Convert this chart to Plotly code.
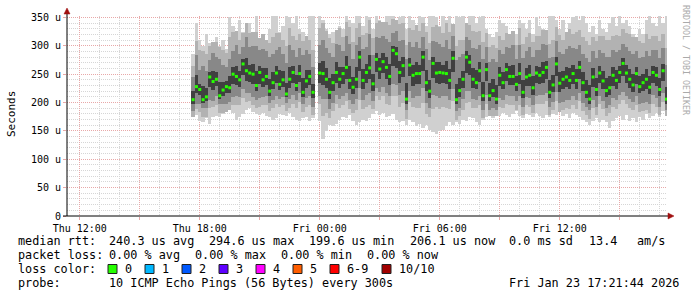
import plotly.graph_objects as go
import pandas as pd

# ---------------- data (10-minute steps) ----------------
start_time = "2026-01-22 17:40:00"
n_steps = 143
times = list(pd.date_range(start_time, periods=n_steps, freq="10min"))

median_us = [
    205, 228, 223, 205, 210, 245, 237, 241, 212, 222, 228, 226, 250, 246, 240, 268, 256, 252, 250, 230,
    253, 240, 246, 220, 235, 252, 232, 240, 215, 241, 253, 230, 251, 218, 238, 246,
    218, None, 252, 251, 241, 218, 235, 253, 241, 251, 262, 239, 227, 241, 280, 239, 253, 261, 233, 276,
    259, 272, 262, 246, 292, 286, 253, 265, 206, 266, 248, 251, 251, 280, 235, 220,
    269, 252, 253, 252, 251, 239, 278, 205, 221, 241, 280, 271, 241, 235, 256, 212, 258, 212, 221, 206,
    248, 235, 258, 246, 246, 232, 251, 218, 245, 248, 226, 252, 248, 253, 262, 218,
    231, 268, 234, 241, 245, 239, 251, 239, 262, 235, 218, 206, 245, 223, 252, 238, 221, 226, 248, 239,
    253, 269, 252, 241, 231, 251, 228, 235, 241, 227, 253, 248, 223, 256, 206,
]

max_us = [
    285, 340, 310, 300, 320, 305, 290, 315, 300, 310, 295, 350, 335, 315, 345, 325, 300, 340, 320, 360,
    305, 320, 295, 330, 355, 360, 325, 335, 360, 350, 340, 360, 330, 325, 315, 358,
    352, None, 360, 345, 330, 320, 325, 315, 335, 330, 358, 345, 340, 360, 355, 335, 360, 350, 330, 360,
    345, 335, 360, 352, 360, 335, 350, 360, 330, 355, 345, 330, 360, 350, 335, 358,
    360, 350, 335, 360, 345, 360, 330, 360, 350, 358, 335, 355, 360, 340, 350, 360, 330, 320, 315, 325,
    345, 340, 335, 310, 305, 320, 345, 340, 330, 345, 320, 350, 335, 330, 325, 355,
    360, 345, 330, 345, 325, 340, 350, 360, 345, 355, 340, 325, 335, 320, 345, 330, 325, 340, 350, 335,
    360, 340, 345, 335, 320, 315, 330, 320, 345, 355, 340, 335, 355, 340, 358,
]

min_us = [
    185, 178, 168, 166, 172, 163, 175, 176, 174, 180, 185, 190, 182, 170, 175, 180, 186, 190, 184, 180,
    178, 182, 176, 175, 170, 172, 180, 178, 176, 182, 174, 170, 168, 172, 175, 168,
    172, None, 168, 135, 150, 160, 158, 162, 170, 175, 172, 178, 168, 160, 165, 170, 168, 172, 180, 185,
    178, 182, 175, 176, 180, 170, 165, 168, 160, 170, 165, 158, 162, 155, 160, 152,
    148, 145, 150, 152, 158, 165, 160, 165, 162, 170, 168, 175, 172, 165, 160, 170, 175, 178, 172, 180,
    176, 182, 178, 175, 180, 185, 176, 172, 180, 178, 174, 182, 176, 172, 178, 175,
    180, 178, 185, 176, 180, 172, 182, 178, 175, 170, 165, 160, 168, 172, 166, 170, 165, 155, 168, 172,
    176, 170, 178, 168, 172, 166, 175, 170, 180, 172, 176, 182, 175, 185, 180,
]

# spread of the second (light-grey) smoke band above / below the median
b2_up = [
    60, 80, 70, 85, 75, 55, 70, 65, 85, 70, 60, 90, 75, 80, 70, 55, 85, 70, 75, 95,
    60, 80, 65, 85, 80, 70, 90, 70, 85, 90, 65, 80, 70, 90, 80, 65,
    75, None, 80, 90, 85, 95, 70, 75, 90, 65, 80, 95, 80, 90, 60, 80, 70, 85, 80, 65,
    85, 70, 80, 90, 55, 60, 85, 75, 95, 65, 80, 85, 75, 60, 90, 85,
    65, 85, 80, 70, 90, 85, 60, 95, 90, 70, 60, 65, 85, 90, 70, 95, 65, 85, 80, 90,
    70, 75, 65, 75, 80, 70, 80, 85, 70, 75, 80, 65, 70, 75, 65, 85,
    80, 65, 85, 70, 80, 90, 70, 85, 65, 80, 90, 95, 70, 85, 65, 80, 90, 85, 70, 80,
    65, 60, 70, 80, 85, 65, 80, 70, 80, 85, 65, 70, 85, 65, 90,
]
b2_dn = [
    30, 40, 40, 30, 35, 55, 45, 45, 30, 40, 45, 40, 55, 50, 45, 60, 55, 50, 55, 40,
    60, 45, 50, 35, 45, 55, 40, 45, 30, 50, 55, 40, 50, 35, 45, 50,
    40, None, 55, 75, 60, 45, 50, 55, 50, 55, 60, 50, 45, 55, 75, 50, 60, 65, 45, 65,
    55, 60, 65, 50, 80, 75, 60, 65, 35, 65, 55, 60, 60, 80, 55, 45,
    80, 60, 65, 60, 60, 50, 75, 35, 45, 55, 80, 70, 50, 45, 60, 40, 60, 35, 45, 30,
    55, 45, 60, 50, 50, 45, 55, 40, 50, 55, 45, 55, 50, 55, 60, 40,
    45, 65, 50, 55, 55, 50, 55, 50, 60, 50, 40, 35, 55, 45, 55, 50, 45, 45, 55, 50,
    55, 65, 55, 50, 45, 55, 45, 50, 55, 45, 55, 55, 45, 55, 30,
]

# spread of the middle smoke band above / below the median
mid_up = [
    40, 55, 35, 60, 45, 30, 50, 40, 65, 45, 35, 50, 40, 55, 45, 30, 60, 45, 50, 70,
    40, 55, 45, 60, 50, 40, 65, 45, 55, 60, 40, 50, 45, 65, 55, 40,
    45, None, 50, 60, 55, 70, 45, 50, 60, 40, 55, 65, 50, 60, 35, 55, 45, 60, 50, 40,
    55, 45, 50, 60, 30, 40, 55, 45, 70, 40, 50, 55, 45, 35, 60, 55,
    40, 55, 50, 45, 60, 55, 40, 70, 60, 45, 35, 40, 55, 60, 45, 65, 40, 60, 55, 65,
    45, 50, 40, 50, 55, 45, 50, 60, 45, 50, 55, 40, 45, 50, 40, 60,
    50, 40, 55, 45, 50, 60, 45, 55, 40, 50, 60, 65, 45, 55, 40, 50, 60, 55, 45, 50,
    40, 35, 45, 50, 55, 40, 50, 45, 50, 55, 40, 45, 55, 40, 60,
]
mid_dn = [
    20, 30, 25, 15, 20, 40, 35, 30, 15, 25, 30, 25, 40, 35, 30, 45, 40, 35, 40, 25,
    45, 30, 35, 20, 30, 40, 25, 30, 15, 35, 40, 25, 35, 20, 30, 35,
    25, None, 40, 45, 35, 30, 35, 40, 35, 40, 45, 35, 30, 35, 55, 35, 40, 45, 30, 50,
    40, 45, 45, 35, 60, 55, 40, 45, 20, 45, 40, 40, 40, 55, 35, 30,
    55, 40, 45, 40, 40, 35, 55, 20, 30, 35, 60, 50, 35, 30, 45, 25, 45, 25, 30, 20,
    40, 30, 45, 35, 35, 30, 40, 25, 35, 40, 30, 40, 35, 40, 45, 25,
    30, 50, 35, 40, 40, 35, 40, 35, 45, 35, 25, 20, 40, 30, 40, 35, 30, 30, 40, 35,
    40, 50, 40, 35, 30, 40, 30, 35, 40, 30, 40, 40, 30, 40, 20,
]

# spread of the dark inner smoke band above / below the median
in_up = [
    15, 20, 10, 25, 15, 8, 18, 12, 25, 15, 10, 20, 12, 18, 15, 8, 22, 15, 18, 25,
    12, 20, 15, 22, 18, 12, 25, 15, 20, 22, 12, 18, 15, 25, 20, 12,
    15, None, 18, 22, 20, 25, 15, 18, 22, 12, 20, 25, 18, 22, 10, 20, 15, 22, 18, 12,
    20, 15, 18, 22, 8, 12, 20, 15, 28, 12, 18, 20, 15, 10, 22, 20,
    12, 20, 18, 15, 22, 20, 12, 28, 22, 15, 10, 12, 20, 22, 15, 25, 12, 22, 20, 25,
    15, 18, 12, 18, 20, 15, 18, 22, 15, 18, 20, 12, 15, 18, 12, 22,
    18, 12, 20, 15, 18, 22, 15, 20, 12, 18, 22, 25, 15, 20, 12, 18, 22, 20, 15, 18,
    12, 10, 15, 18, 20, 12, 18, 15, 18, 20, 12, 15, 20, 12, 22,
]
in_dn = [
    8, 12, 10, 5, 8, 18, 15, 12, 5, 10, 12, 10, 18, 15, 12, 20, 18, 15, 18, 10,
    20, 12, 15, 8, 12, 18, 10, 12, 5, 15, 18, 10, 15, 8, 12, 15,
    10, None, 18, 20, 15, 12, 15, 18, 15, 18, 20, 15, 12, 15, 25, 15, 18, 20, 12, 22,
    18, 20, 20, 15, 28, 25, 18, 20, 8, 20, 18, 18, 18, 25, 15, 12,
    25, 18, 20, 18, 18, 15, 25, 8, 12, 15, 28, 22, 15, 12, 20, 10, 20, 10, 12, 8,
    18, 12, 20, 15, 15, 12, 18, 10, 15, 18, 12, 18, 15, 18, 20, 10,
    12, 22, 15, 18, 18, 15, 18, 15, 20, 15, 10, 8, 18, 12, 18, 15, 12, 12, 18, 15,
    18, 22, 18, 15, 12, 18, 12, 15, 18, 12, 18, 18, 12, 18, 8,
]

for arr in (median_us, max_us, min_us, b2_up, b2_dn, mid_up, mid_dn, in_up, in_dn):
    assert len(arr) == n_steps, len(arr)

y_tick_vals = [0, 50, 100, 150, 200, 250, 300, 350]
y_tick_text = ["0", "50 u", "100 u", "150 u", "200 u", "250 u", "300 u", "350 u"]

x_tick_vals = ["2026-01-22 12:00", "2026-01-22 15:00", "2026-01-22 18:00", "2026-01-22 21:00",
               "2026-01-23 00:00", "2026-01-23 03:00", "2026-01-23 06:00", "2026-01-23 09:00",
               "2026-01-23 12:00", "2026-01-23 15:00"]
x_tick_text = ["Thu 12:00", "", "Thu 18:00", "", "Fri 00:00", "", "Fri 06:00", "", "Fri 12:00", ""]

loss_labels = ["0", "1", "2", "3", "4", "5", "6-9", "10/10"]
loss_colors = ["#26ff00", "#00b8ff", "#0059ff", "#5e00ff", "#ff00ff", "#ff5e00", "#ff0000", "#a10000"]

legend_rows = [
    [("median rtt:", 16), ("240.3 us avg", 107), ("294.6 us max", 207), ("199.6 us min", 307),
     ("206.1 us now", 408), ("0.0 ms sd", 507), ("13.4", 587), ("am/s", 635)],
    [("packet loss:", 16), ("0.00 % avg", 107), ("0.00 % max", 193), ("0.00 % min", 279),
     ("0.00 % now", 365)],
    [("loss color:", 16)],
    [("probe:", 16), ("10 ICMP Echo Pings (56 Bytes) every 300s", 107)],
]
legend_row_y = [241, 255, 269, 283]
loss_box_x = [108, 145, 182, 219, 256, 293, 330, 382]
timestamp_text = "Fri Jan 23 17:21:44 2026"

# ---------------- layout constants (pixels) ----------------
W, H = 697, 297
L, R, T, B = 67, 30, 16, 81
PW, PH = W - L - R, H - T - B


def px(x):
    return (x - L) / PW


def py(y):
    return (T + PH - y) / PH


def band(lo_list, hi_list):
    base, height = [], []
    for lo, hi in zip(lo_list, hi_list):
        if lo is None or hi is None:
            base.append(None)
            height.append(None)
        else:
            base.append(lo)
            height.append(hi - lo)
    return base, height


def around(med, up, dn):
    lo = [None if m is None else m - d for m, d in zip(med, dn)]
    hi = [None if m is None else m + u for m, u in zip(med, up)]
    return lo, hi


b2_lo, b2_hi = around(median_us, b2_up, b2_dn)
mid_lo, mid_hi = around(median_us, mid_up, mid_dn)
in_lo, in_hi = around(median_us, in_up, in_dn)

fig = go.Figure()
step_ms = 10 * 60 * 1000
for lo, hi, col in ((min_us, max_us, "#d0d0d0"), (b2_lo, b2_hi, "#b2b2b2"),
                    (mid_lo, mid_hi, "#888888"), (in_lo, in_hi, "#404040")):
    b, h = band(lo, hi)
    fig.add_trace(go.Bar(x=times, y=h, base=b, width=step_ms, marker=dict(color=col, line=dict(width=0)),
                         hoverinfo="skip", showlegend=False))

fig.add_trace(go.Scatter(x=times, y=median_us, mode="markers",
                         marker=dict(symbol="square", size=3, color=loss_colors[0], line=dict(width=0)),
                         hoverinfo="skip", showlegend=False))

mono = "DejaVu Sans Mono"
grid_minor = "#d6d6d6"
grid_major = "#e8a8a8"

fig.update_layout(
    width=W, height=H, margin=dict(l=L, r=R, t=T, b=B, pad=0),
    paper_bgcolor="white", plot_bgcolor="white", barmode="overlay", bargap=0,
    font=dict(family=mono, size=10, color="black"),
    showlegend=False,
)
fig.update_xaxes(
    type="date", range=["2026-01-22 11:21:44", "2026-01-23 17:21:44"],
    tickmode="array", tickvals=x_tick_vals, ticktext=x_tick_text,
    showgrid=True, gridcolor=grid_major, griddash="1px,1px", gridwidth=1,
    ticks="outside", ticklen=3, tickcolor=grid_major,
    minor=dict(dtick=3600000, showgrid=True, gridcolor=grid_minor, griddash="1px,1px", ticks=""),
    showline=False, zeroline=False, tickfont=dict(family=mono, size=10),
)
fig.update_yaxes(
    range=[0, 352.5], tickmode="array", tickvals=y_tick_vals, ticktext=y_tick_text,
    showgrid=True, gridcolor=grid_major, griddash="1px,1px", gridwidth=1,
    ticks="outside", ticklen=3, tickcolor=grid_major,
    minor=dict(dtick=10, tick0=0, showgrid=True, gridcolor=grid_minor, griddash="1px,1px", ticks=""),
    showline=False, zeroline=False, tickfont=dict(family=mono, size=10),
)

shapes = [
    dict(type="line", xref="paper", yref="paper", x0=0, x1=0, y0=py(216), y1=py(12),
         line=dict(color="black", width=1), layer="above"),
    dict(type="line", xref="paper", yref="paper", x0=px(63), x1=px(669), y0=0, y1=0,
         line=dict(color="black", width=1), layer="above"),
    dict(type="path", xref="paper", yref="paper",
         path=f"M {px(64)},{py(14)} L {px(70)},{py(14)} L {px(67)},{py(8)} Z",
         fillcolor="#a01010", line=dict(color="#a01010", width=0.5), layer="above"),
    dict(type="path", xref="paper", yref="paper",
         path=f"M {px(668)},{py(213)} L {px(668)},{py(219)} L {px(674)},{py(216)} Z",
         fillcolor="#a01010", line=dict(color="#a01010", width=0.5), layer="above"),
]
for bx, col in zip(loss_box_x, loss_colors):
    shapes.append(dict(type="rect", xref="paper", yref="paper",
                       x0=px(bx), x1=px(bx + 9), y0=py(273.5), y1=py(264.5),
                       fillcolor=col, line=dict(color="#202020", width=1), layer="above"))
fig.update_layout(shapes=shapes)

ann = []
LF = 11.8
for row, yy in zip(legend_rows, legend_row_y):
    for txt, xx in row:
        ann.append(dict(text=txt, x=px(xx), y=py(yy), xref="paper", yref="paper",
                        xanchor="left", yanchor="middle", showarrow=False,
                        font=dict(family=mono, size=LF, color="black")))
for bx, lab in zip(loss_box_x, loss_labels):
    ann.append(dict(text=lab, x=px(bx + 15), y=py(269), xref="paper", yref="paper",
                    xanchor="left", yanchor="middle", showarrow=False,
                    font=dict(family=mono, size=LF, color="black")))
ann.append(dict(text=timestamp_text, x=px(681), y=py(283), xref="paper", yref="paper",
                xanchor="right", yanchor="middle", showarrow=False,
                font=dict(family=mono, size=LF, color="black")))
ann.append(dict(text="Seconds", x=px(11), y=py(114), xref="paper", yref="paper",
                xanchor="center", yanchor="middle", textangle=-90, showarrow=False,
                font=dict(family=mono, size=11, color="black")))
ann.append(dict(text="RRDTOOL / TOBI OETIKER", x=px(686), y=py(60), xref="paper", yref="paper",
                xanchor="center", yanchor="middle", textangle=90, showarrow=False,
                font=dict(family=mono, size=8.3, color="#aaaaaa")))
fig.update_layout(annotations=ann)

fig.write_html("out.html")
